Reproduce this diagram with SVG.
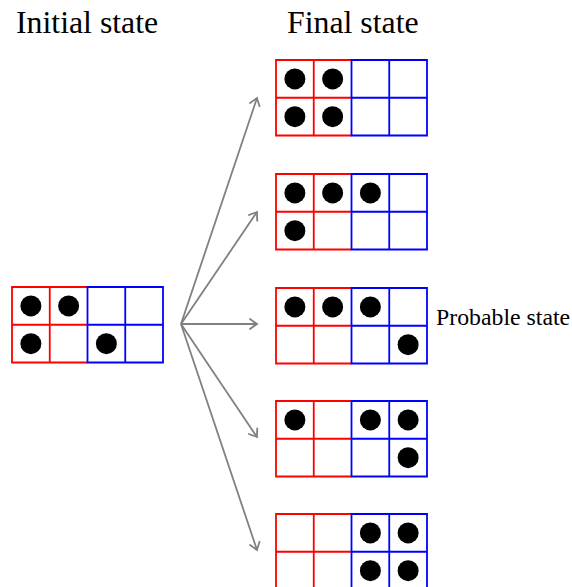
<svg xmlns="http://www.w3.org/2000/svg" xmlns:xlink="http://www.w3.org/1999/xlink" width="572" height="587" viewBox="0 0 572 587">
<style>
.title{font-family:"Liberation Serif","Times New Roman",serif;font-size:31.8px;fill:#000}
.label{font-family:"Liberation Serif","Times New Roman",serif;font-size:23.8px;fill:#000}
.red{fill:none;stroke:#ff0000;stroke-width:1.8}
.blue{fill:none;stroke:#0000ff;stroke-width:1.8}
.dot{fill:#000}
.arrow{fill:none;stroke:#808080;stroke-width:1.8;marker-end:url(#tip)}
</style>
<defs>
<marker id="tip" markerUnits="userSpaceOnUse" markerWidth="20" markerHeight="20" viewBox="-10 -10 20 20" refX="0" refY="0" orient="auto" overflow="visible">
<path d="M -7 -5 Q -1.5 -1 0 0 Q -1.5 1 -7 5" fill="none" stroke="#808080" stroke-width="1.8" stroke-linecap="round"/>
</marker>
<g id="frame">
<path class="red" d="M75.5 0 H0 V75.5 H75.5 M37.75 0 V75.5 M0 37.75 H75.5"/>
<path class="blue" d="M75.5 0 H151 V75.5 H75.5 Z M113.25 0 V75.5 M75.5 37.75 H151"/>
</g>
</defs>
<text class="title" x="16" y="33">Initial state</text>
<text class="title" x="287" y="33">Final state</text>
<g id="connectors">
<path class="arrow" d="M181 324 L257 98"/>
<path class="arrow" d="M181 324 L257 212"/>
<path class="arrow" d="M181 324 L257 324"/>
<path class="arrow" d="M181 324 L257 437"/>
<path class="arrow" d="M181 324 L257 550"/>
</g>
<g id="initial" transform="translate(12,287)">
<use xlink:href="#frame"/>
<circle class="dot" cx="18.875" cy="18.875" r="10.5"/>
<circle class="dot" cx="56.625" cy="18.875" r="10.5"/>
<circle class="dot" cx="18.875" cy="56.625" r="10.5"/>
<circle class="dot" cx="94.375" cy="56.625" r="10.5"/>
</g>
<g id="final1" transform="translate(276,60)">
<use xlink:href="#frame"/>
<circle class="dot" cx="18.875" cy="18.875" r="10.5"/>
<circle class="dot" cx="56.625" cy="18.875" r="10.5"/>
<circle class="dot" cx="18.875" cy="56.625" r="10.5"/>
<circle class="dot" cx="56.625" cy="56.625" r="10.5"/>
</g>
<g id="final2" transform="translate(276,174)">
<use xlink:href="#frame"/>
<circle class="dot" cx="18.875" cy="18.875" r="10.5"/>
<circle class="dot" cx="56.625" cy="18.875" r="10.5"/>
<circle class="dot" cx="94.375" cy="18.875" r="10.5"/>
<circle class="dot" cx="18.875" cy="56.625" r="10.5"/>
</g>
<g id="final3" transform="translate(276,288)">
<use xlink:href="#frame"/>
<circle class="dot" cx="18.875" cy="18.875" r="10.5"/>
<circle class="dot" cx="56.625" cy="18.875" r="10.5"/>
<circle class="dot" cx="94.375" cy="18.875" r="10.5"/>
<circle class="dot" cx="132.125" cy="56.625" r="10.5"/>
</g>
<g id="probable-label">
<text class="label" x="436" y="325">Probable state</text>
</g>
<g id="final4" transform="translate(276,401)">
<use xlink:href="#frame"/>
<circle class="dot" cx="18.875" cy="18.875" r="10.5"/>
<circle class="dot" cx="94.375" cy="18.875" r="10.5"/>
<circle class="dot" cx="132.125" cy="18.875" r="10.5"/>
<circle class="dot" cx="132.125" cy="56.625" r="10.5"/>
</g>
<g id="final5" transform="translate(276,514)">
<use xlink:href="#frame"/>
<circle class="dot" cx="94.375" cy="18.875" r="10.5"/>
<circle class="dot" cx="132.125" cy="18.875" r="10.5"/>
<circle class="dot" cx="94.375" cy="56.625" r="10.5"/>
<circle class="dot" cx="132.125" cy="56.625" r="10.5"/>
</g>
</svg>
